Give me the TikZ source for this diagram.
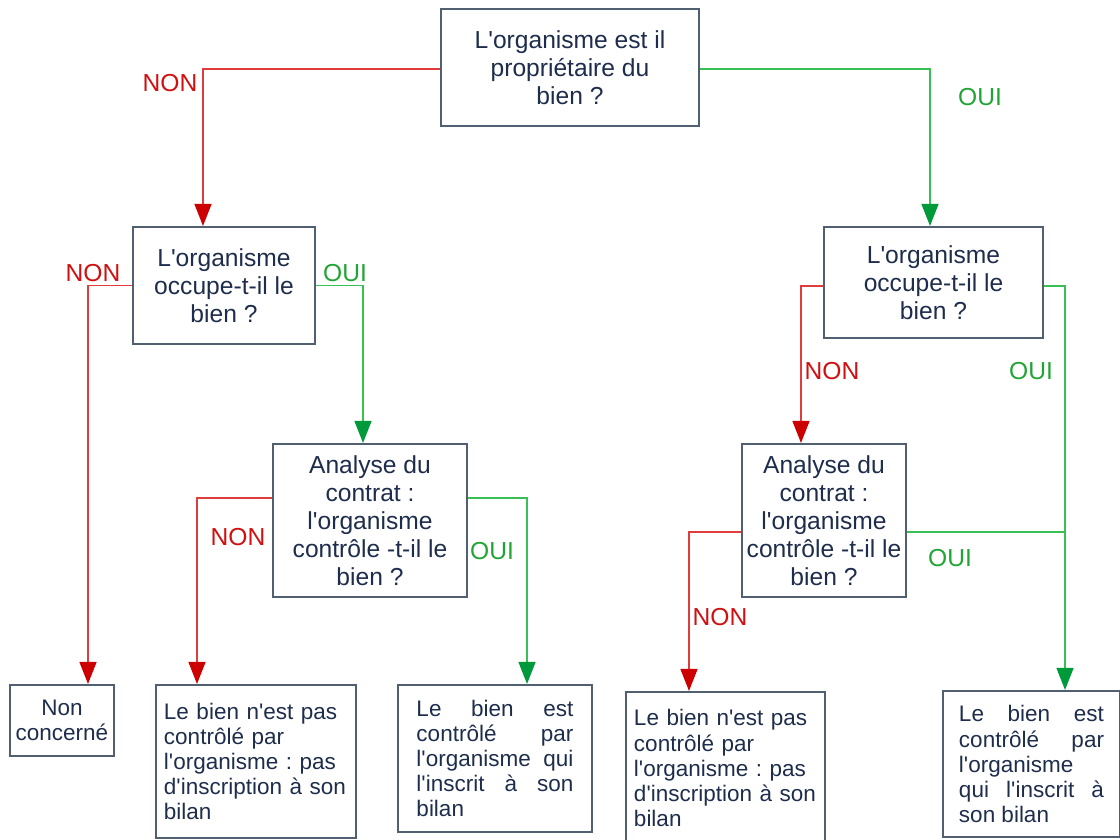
\documentclass[tikz,border=0pt]{standalone}
\usepackage{fontspec}
\setmainfont{Liberation Sans}[Ligatures=TeXOff]
\usetikzlibrary{arrows.meta}
\frenchspacing
\definecolor{nonline}{HTML}{E03C3C}
\definecolor{nontip}{HTML}{CC0000}
\definecolor{nontext}{HTML}{D01010}
\definecolor{ouiline}{HTML}{38C055}
\definecolor{ouitip}{HTML}{009A3A}
\definecolor{ouitext}{HTML}{20A535}
\definecolor{boxgray}{HTML}{506070}
\definecolor{textblue}{HTML}{1E2D4C}

\begin{document}
\begin{tikzpicture}[x=0.025cm,y=-0.025cm,
    question/.style={draw=boxgray,line width=1.4pt,text=textblue,align=center,
      inner sep=0pt,font=\fontsize{17.5}{20}\selectfont},
    answer/.style={draw=boxgray,line width=1.4pt,text=textblue,anchor=north west,
      inner ysep=0pt,font=\fontsize{16}{17.8}\selectfont},
    non/.style={draw=nonline,line width=1.3pt,-{Triangle[length=0.55cm,width=0.42cm,color=nontip]}},
    oui/.style={draw=ouiline,line width=1.3pt,-{Triangle[length=0.55cm,width=0.42cm,color=ouitip]}},
    nonlabel/.style={text=nontext,font=\fontsize{17.5}{20}\selectfont},
    ouilabel/.style={text=ouitext,font=\fontsize{17.5}{20}\selectfont}]
        \useasboundingbox (0,0) rectangle (1120,840);

        % questions
        \node[question,minimum width=6.45cm,minimum height=2.925cm] (prop) at (570,67.5)
          {L'organisme est il\\propriétaire du\\bien ?};
        \node[question,minimum width=4.55cm,minimum height=2.925cm] (occL) at (224,285.5)
          {L'organisme\\occupe-t-il le\\bien ?};
        \node[question,minimum width=5.45cm,minimum height=2.775cm] (occR) at (933.5,282.5)
          {L'organisme\\occupe-t-il le\\bien ?};
        \node[question,minimum width=4.85cm,minimum height=3.825cm] (ctrlL) at (370,520.5)
          {Analyse du\\contrat :\\l'organisme\\contrôle -t-il le\\bien ?};
        \node[question,minimum width=4.1cm,minimum height=3.825cm] (ctrlR) at (824,520.5)
          {Analyse du\\contrat :\\l'organisme\\contrôle -t-il le\\bien ?};

        % answers
        \node[answer,align=center,inner xsep=0pt,minimum width=2.6cm,minimum height=1.775cm] (nc) at (9,684)
          {Non\\concerné};
        \node[answer,align=left,text width=4.6cm,inner xsep=0.2cm,minimum height=3.825cm] (pasL) at (155,684)
          {Le bien n'est pas\\contrôlé par\\l'organisme : pas\\d'inscription à son\\bilan};
        \node[answer,align=justify,text width=3.925cm,inner xsep=0.4625cm,minimum height=3.675cm] (ouiL) at (397,684)
          {Le bien est\linebreak contrôlé par\linebreak l'organisme qui\linebreak l'inscrit à son\linebreak bilan};
        \node[answer,align=left,text width=4.575cm,inner xsep=0.2cm,minimum height=3.8cm] (pasR) at (625,691)
          {Le bien n'est pas\\contrôlé par\\l'organisme : pas\\d'inscription à son\\bilan};
        \node[answer,align=justify,text width=3.625cm,inner xsep=0.4cm,minimum height=3.65cm] (ouiR) at (942,690)
          {Le bien est\linebreak contrôlé par\linebreak l'organisme\linebreak qui l'inscrit à\linebreak son bilan};

        % labels
        \node[nonlabel] (n1) at (170,83) {NON};
        \node[ouilabel] (o1) at (980,97) {OUI};
        \node[nonlabel] (n2) at (93,273) {NON};
        \node[ouilabel] (o2) at (345,273) {OUI};
        \node[nonlabel] (n3) at (238,537) {NON};
        \node[ouilabel] (o3) at (492,551) {OUI};
        \node[nonlabel] (n4) at (832,371) {NON};
        \node[ouilabel] (o4) at (1031,371) {OUI};
        \node[ouilabel] (o5) at (950,558) {OUI};
        \node[nonlabel] (n5) at (720,617) {NON};

        % connectors
        \coordinate (j) at ([xshift=0.8375cm]ouiR.north);
        \coordinate (eR) at ([yshift=-0.2875cm]ctrlR.east);
        \draw[non] ([yshift=-0.0375cm]prop.west) -| ([xshift=-0.525cm]occL.north);
        \draw[oui] ([yshift=-0.0375cm]prop.east) -| ([xshift=-0.0875cm]occR.north);
        \draw[non] (occL.west) -| ([xshift=0.65cm]nc.north);
        \draw[oui] (occL.east) -| ([xshift=-0.175cm]ctrlL.north);
        \draw[non] ([yshift=0.5625cm]ctrlL.west) -| ([xshift=-1.475cm]pasL.north);
        \draw[oui] ([yshift=0.5625cm]ctrlL.east) -| ([xshift=0.8cm]ouiL.north);
        \draw[non] ([yshift=-0.0875cm]occR.west) -| ([xshift=-0.575cm]ctrlR.north);
        \draw[oui] ([yshift=-0.0875cm]occR.east) -| (j);
        \draw[ouiline,line width=1.3pt] (eR) -- (eR -| j);
        \draw[non] ([yshift=-0.2875cm]ctrlR.west) -| ([xshift=-0.9125cm]pasR.north);
      \end{tikzpicture}
\end{document}
